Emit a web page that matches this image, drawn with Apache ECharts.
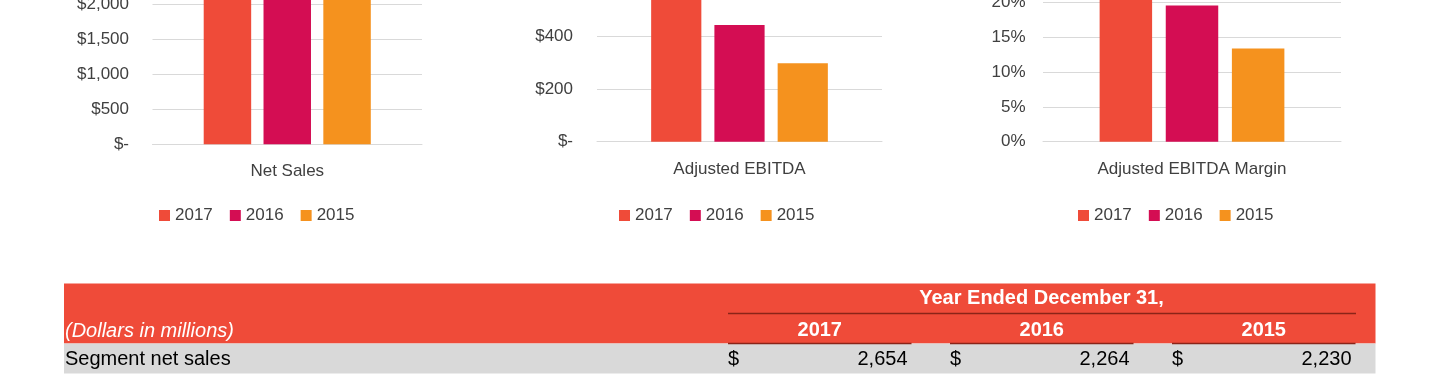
<!DOCTYPE html>
<html>
<head>
<meta charset="utf-8">
<script src="https://cdn.jsdelivr.net/npm/echarts@6.0.0/dist/echarts.min.js"></script>
<style>
  html, body { margin: 0; padding: 0; background: #fff; }
  #main { width: 1440px; height: 375px; }
</style>
</head>
<body>
<div id="main"></div>
<script>
// data
var years = ['2017', '2016', '2015']
var netSales = [2654, 2264, 2230]
var adjEbitda = [580, 445, 299]
var ebitdaMargin = [21.9, 19.6, 13.4]
var categories = [['Net Sales'], ['Adjusted EBITDA'], ['Adjusted EBITDA Margin']]
var tableTitle = 'Year Ended December 31,'
var tableUnit = '(Dollars in millions)'
var rowLabel = 'Segment net sales'
var rowValues = [2654, 2264, 2230]

var colors = ['#ef4b39', '#d40d53', '#f5921e']
var FONT = "'Liberation Sans', Arial, sans-serif"
var TEXT = '#404040'
var GRID_LINE = '#d9d9d9'

var myChart = echarts.init(document.getElementById('main'))

function dollars(v) {
  return v === 0 ? '$-' : '$' + v.toLocaleString('en-US')
}

// plot areas run above the top of the picture, as in the cropped original
var grids = [
  { left: 152.5, top: -65.1, width: 269.5, height: 209.4, outerBoundsMode: 'none' },
  { left: 597, top: -68.3, width: 285, height: 210, outerBoundsMode: 'none' },
  { left: 1043, top: -32.1, width: 298, height: 173.8, outerBoundsMode: 'none' }
]
var yCfg = [
  { max: 3000, interval: 500, fmt: dollars, margin: 23.5 },
  { max: 800, interval: 200, fmt: dollars, margin: 24 },
  { max: 25, interval: 5, fmt: function (v) { return v + '%' }, margin: 17.5 }
]
var legendLeft = [159, 619, 1078]
var seriesData = [netSales, adjEbitda, ebitdaMargin]

var xAxes = [], yAxes = [], legends = [], series = []
for (var g = 0; g < 3; g++) {
  xAxes.push({
    type: 'category',
    gridIndex: g,
    data: categories[g],
    axisLine: { lineStyle: { color: GRID_LINE, width: 1 } },
    axisTick: { show: false },
    axisLabel: { fontSize: 17, fontFamily: FONT, color: TEXT, margin: 19 }
  })
  yAxes.push({
    type: 'value',
    gridIndex: g,
    min: 0,
    max: yCfg[g].max,
    interval: yCfg[g].interval,
    axisLine: { show: false },
    axisTick: { show: false },
    splitLine: { lineStyle: { color: GRID_LINE, width: 1 } },
    axisLabel: { fontSize: 17, fontFamily: FONT, color: TEXT, margin: yCfg[g].margin, formatter: yCfg[g].fmt }
  })
  legends.push({
    data: years,
    left: legendLeft[g],
    top: 207,
    padding: 0,
    icon: 'rect',
    itemWidth: 11,
    itemHeight: 11,
    itemGap: 17,
    textStyle: { fontSize: 17, fontFamily: FONT, color: TEXT }
  })
  for (var k = 0; k < years.length; k++) {
    series.push({
      name: years[k],
      type: 'bar',
      xAxisIndex: g,
      yAxisIndex: g,
      data: [seriesData[g][k]],
      itemStyle: { color: colors[k] },
      barGap: '26%',
      barCategoryGap: '38%'
    })
  }
}

// table under the charts
var table = []
table.push({ type: 'rect', shape: { x: 64, y: 283.5, width: 1311.5, height: 60 }, style: { fill: '#ef4b39' } })
table.push({ type: 'rect', shape: { x: 64, y: 343.5, width: 1311.5, height: 30 }, style: { fill: '#d9d9d9' } })
table.push({
  type: 'text', x: 65, y: 331,
  style: { text: tableUnit, fill: '#fff', font: 'italic 20px ' + FONT, textAlign: 'left', textVerticalAlign: 'middle' }
})
table.push({
  type: 'text', x: 1041.5, y: 298.5,
  style: { text: tableTitle, fill: '#fff', font: 'bold 20px ' + FONT, textAlign: 'center', textVerticalAlign: 'middle' }
})
table.push({ type: 'line', shape: { x1: 728, y1: 313.5, x2: 1356, y2: 313.5 }, style: { stroke: '#8a2418', lineWidth: 1.5 } })
table.push({
  type: 'text', x: 65, y: 359.5,
  style: { text: rowLabel, fill: '#000', font: '20px ' + FONT, textAlign: 'left', textVerticalAlign: 'middle' }
})
var colLeft = [728, 950, 1172]
var colWidth = 183.5
for (var c = 0; c < years.length; c++) {
  var x0 = colLeft[c]
  table.push({
    type: 'text', x: x0 + colWidth / 2, y: 330,
    style: { text: years[c], fill: '#fff', font: 'bold 20px ' + FONT, textAlign: 'center', textVerticalAlign: 'middle' }
  })
  table.push({ type: 'line', shape: { x1: x0, y1: 343.5, x2: x0 + colWidth, y2: 343.5 }, style: { stroke: '#8a2418', lineWidth: 1.5 } })
  table.push({
    type: 'text', x: x0, y: 359.5,
    style: { text: '$', fill: '#000', font: '20px ' + FONT, textAlign: 'left', textVerticalAlign: 'middle' }
  })
  table.push({
    type: 'text', x: x0 + colWidth - 4, y: 359.5,
    style: { text: rowValues[c].toLocaleString('en-US'), fill: '#000', font: '20px ' + FONT, textAlign: 'right', textVerticalAlign: 'middle' }
  })
}

var option = {
  animation: false,
  backgroundColor: '#fff',
  grid: grids,
  xAxis: xAxes,
  yAxis: yAxes,
  legend: legends,
  series: series,
  graphic: table
}

myChart.setOption(option)
</script>
</body>
</html>
